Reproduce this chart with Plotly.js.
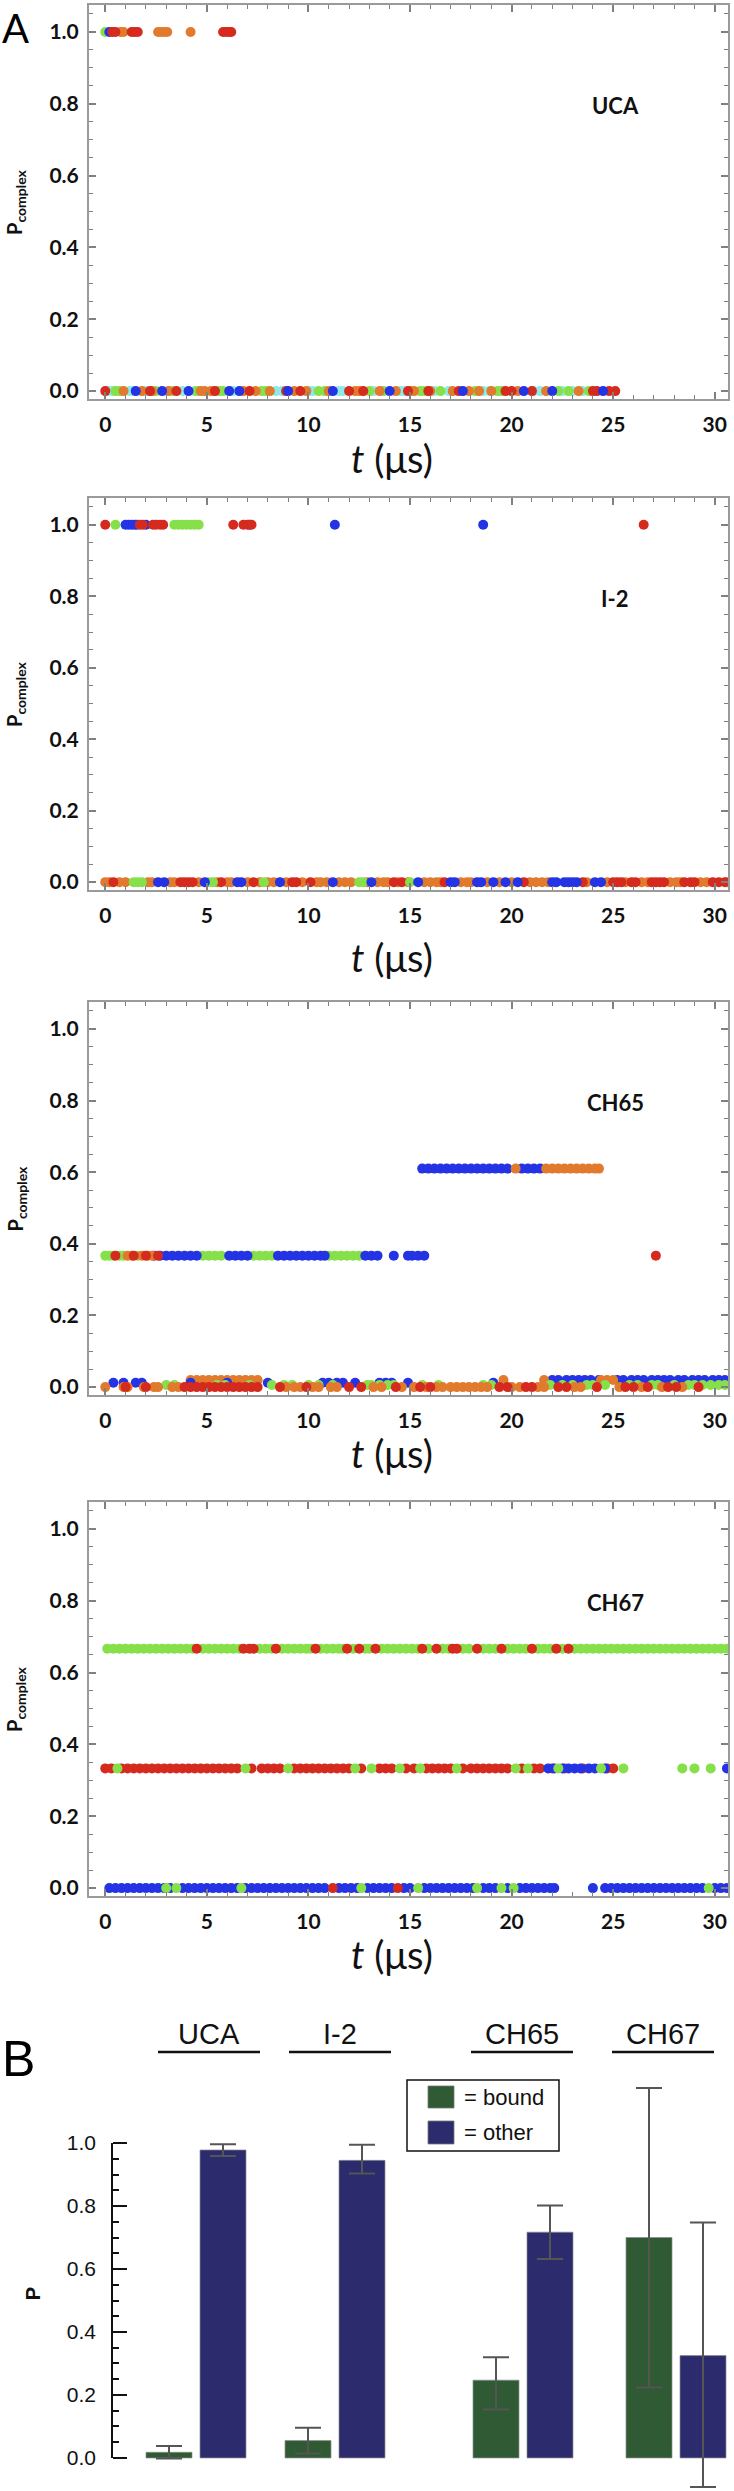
<!DOCTYPE html>
<html>
<head>
<meta charset="utf-8">
<script src="https://cdn.plot.ly/plotly-3.0.1.min.js"></script>
<style>
  html, body { margin: 0; padding: 0; background: #fff; }
  #plot { width: 734px; height: 2491px; }
</style>
</head>
<body>
<div id="plot"></div>
<script>
"use strict";

// ── Panel A: trajectory samples, t in µs, one array per colour and level ──
// UCA
const UCA_TOP_GREEN  = [0.0];
const UCA_TOP_BLUE   = [0.2];
const UCA_TOP_RED    = [0.35, 0.5, 1.3, 1.45, 1.6, 5.8, 5.95, 6.1, 6.2];
const UCA_TOP_ORANGE = [0.75, 0.9, 2.6, 2.75, 2.9, 3.05, 4.2];
const UCA_BOT_CYAN   = [0.1, 0.3, 1.2, 1.3, 2.0, 3.8, 4.4, 6.3, 8.4, 8.7, 10.0, 10.2, 11.5, 11.7, 13.2,
                        14.5, 14.7, 16.2, 16.9, 18.6, 18.9, 21.1, 21.4, 22.5, 23.0, 23.5];
const UCA_BOT_GREEN  = [0.5, 0.7, 2.5, 3.3, 4.5, 5.6, 5.8, 7.7, 7.9, 10.5, 10.8, 13.0, 13.7, 15.5, 15.7,
                        16.5, 18.2, 19.3, 19.5, 22.3, 22.8, 23.8];
const UCA_BOT_ORANGE = [0.9, 1.8, 2.3, 3.1, 4.7, 4.9, 5.2, 6.8, 7.4, 8.1, 9.3, 9.9, 11.0, 12.3, 12.5, 13.5,
                        14.3, 15.0, 15.2, 16.0, 17.1, 17.9, 18.4, 19.0, 20.3, 21.7, 23.3];
const UCA_BOT_RED    = [0.0, 2.2, 3.5, 5.4, 7.1, 8.9, 9.6, 12.0, 12.7, 14.9, 15.9, 17.4, 19.7, 20.0, 21.0,
                        24.0, 24.2, 24.8, 25.1];
const UCA_BOT_BLUE   = [1.5, 2.8, 4.1, 6.1, 6.6, 9.0, 11.2, 14.0, 17.6, 20.6, 22.0, 24.5];

// I-2
const I2_TOP_RED    = [0.0, 1.7, 1.85, 2.35, 2.5, 2.7, 2.85, 6.3, 6.8, 7.0, 7.2, 26.5];
const I2_TOP_GREEN  = [0.5, 3.4, 3.6, 3.8, 4.0, 4.2, 4.4, 4.6];
const I2_TOP_BLUE   = [1.0, 1.15, 1.3, 1.45, 1.55, 2.0, 7.1, 11.3, 18.6];
const I2_BOT_ORANGE = [0.0, 0.2, 0.7, 1.0, 2.1, 2.3, 3.2, 3.4, 4.6, 5.5, 6.0, 6.2, 7.0, 7.6, 8.0, 8.3, 8.9,
                       9.7, 10.4, 10.6, 10.9, 11.5, 11.8, 12.1, 12.9, 13.4, 13.7, 13.9, 14.4, 14.9, 15.7,
                       16.0, 16.3, 16.5, 17.5, 17.8, 18.0, 18.8, 19.4, 20.0, 20.9, 21.2, 21.5, 21.8, 23.7,
                       24.7, 25.6, 26.4, 26.7, 27.8, 28.1, 28.3, 29.3, 29.6, 30.6];
const I2_BOT_RED    = [0.4, 3.7, 3.9, 4.1, 4.3, 5.7, 7.3, 9.2, 9.4, 10.1, 14.2, 14.6, 16.7, 20.6, 23.5,
                       25.0, 25.2, 25.4, 25.9, 26.1, 26.9, 27.1, 27.3, 27.5, 28.5, 28.8, 29.0, 29.9, 30.2, 30.5];
const I2_BOT_GREEN  = [1.4, 1.6, 1.8, 5.1, 5.3, 7.8, 12.5, 12.7, 15.0];
const I2_BOT_BLUE   = [2.6, 2.9, 4.9, 6.5, 6.7, 8.6, 11.2, 13.1, 15.4, 17.0, 17.2, 18.3, 18.5, 19.1, 19.7,
                       20.3, 22.0, 22.2, 22.6, 22.8, 23.0, 23.2, 24.1, 24.4];

// CH65
const CH65_MID_GREEN  = [0.0, 0.2, 0.4, 0.7, 0.9, 1.6, 4.8, 5.1, 5.4, 5.7, 7.3, 7.6, 7.9, 8.2, 11.0, 11.3,
                         11.6, 11.9, 12.2, 12.5];
const CH65_MID_ORANGE = [1.1, 1.3, 1.8, 2.1, 2.3];
const CH65_MID_RED    = [0.5, 1.4, 2.0, 2.6, 27.1];
const CH65_MID_BLUE   = [2.4, 2.7, 3.0, 3.3, 3.6, 3.9, 4.2, 4.5, 6.1, 6.4, 6.7, 7.0, 8.5, 8.8, 9.1, 9.4, 9.7,
                         10.0, 10.3, 10.6, 10.8, 12.8, 13.1, 13.4, 14.2, 14.9, 15.1, 15.4, 15.7];
const CH65_HIGH_BLUE   = [15.6, 15.9, 16.2, 16.5, 16.8, 17.1, 17.4, 17.7, 18.0, 18.3, 18.6, 18.9, 19.2, 19.5,
                          19.8, 20.5, 20.8, 21.1, 21.4];
const CH65_HIGH_ORANGE = [20.2, 21.7, 22.0, 22.3, 22.6, 22.9, 23.2, 23.5, 23.8, 24.1, 24.3];
const CH65_BOT_ORANGE = [0.0, 0.9, 1.1, 1.9, 2.4, 2.6, 3.3, 3.6, 8.9, 9.3, 9.6, 10.2, 10.5, 11.1, 11.4, 13.2,
                         13.6, 14.6, 15.2, 15.8, 16.3, 16.6, 17.0, 17.3, 17.6, 17.9, 18.2, 18.5, 18.8, 20.0,
                         20.4, 21.3, 21.6, 23.1, 23.4, 25.3, 26.4, 27.4, 28.4];
const CH65_BOT_RED    = [1.0, 2.0, 3.9, 4.2, 4.5, 4.8, 5.1, 5.4, 5.7, 6.0, 6.3, 6.6, 6.9, 7.2, 7.5, 8.6, 9.9,
                         12.0, 12.6, 14.3, 15.5, 16.0, 19.4, 19.8, 20.7, 21.0, 22.3, 22.7, 24.2, 25.6, 26.0,
                         26.7, 27.7, 28.1, 29.2];
const CH65_BOT_GREEN  = [3.0, 3.4, 5.5, 5.9, 7.1, 8.2, 8.8, 9.2, 10.0, 10.5, 11.2, 12.9, 13.1, 13.5, 13.9,
                         14.2, 15.6, 16.4, 18.6, 19.0, 21.9, 22.5, 23.0, 23.7, 24.0, 24.6, 25.8, 26.2, 26.9,
                         27.2, 28.0, 28.7, 29.0, 29.4, 29.8, 30.2, 30.5];
const CH65_BOT_BLUE   = [0.4, 0.9, 1.5, 1.8, 4.2, 6.0, 8.0, 10.7, 11.0, 11.4, 11.7, 12.3, 13.5, 13.8, 14.1,
                         14.9, 19.1];
const CH65_LOW_BLUE   = [22.0, 22.3, 22.7, 23.0, 23.3, 23.6, 23.9, 24.3, 25.2, 25.5, 25.9, 26.2, 26.5, 26.9,
                         27.2, 27.5, 27.8, 28.2, 28.5, 28.9, 29.2, 29.5, 29.9, 30.2, 30.5];
const CH65_LOW_ORANGE = [4.2, 4.5, 4.8, 5.1, 5.4, 5.7, 6.0, 6.3, 6.6, 6.9, 7.2, 7.5, 19.6, 21.6, 24.4, 24.7, 25.0];

// CH67
const CH67_HIGH_GREEN = [0.1, 0.4, 0.7, 1.0, 1.3, 1.6, 1.9, 2.2, 2.5, 2.8, 3.1, 3.4, 3.7, 4.0, 4.3, 4.8, 5.1,
                         5.4, 5.7, 6.0, 6.3, 6.6, 7.6, 7.9, 8.2, 8.7, 9.0, 9.3, 9.6, 9.9, 10.1, 10.6, 10.9,
                         11.2, 11.5, 11.7, 12.2, 12.8, 13.0, 13.6, 13.9, 14.2, 14.5, 14.8, 15.1, 15.4, 15.9,
                         16.6, 16.9, 17.6, 17.9, 18.6, 18.9, 19.2, 19.8, 20.1, 20.4, 20.7, 21.3, 21.6, 21.9,
                         22.5, 23.1, 23.4, 23.7, 24.0, 24.3, 24.6, 24.9, 25.2, 25.5, 25.8, 26.1, 26.4, 26.7,
                         27.0, 27.3, 27.6, 27.9, 28.2, 28.5, 28.8, 29.1, 29.4, 29.7, 30.0, 30.3, 30.6];
const CH67_HIGH_RED   = [4.5, 6.8, 7.1, 7.3, 8.4, 10.35, 11.9, 12.5, 13.3, 15.6, 16.3, 17.1, 17.3, 18.3, 19.5,
                         21.0, 22.2, 22.8];
const CH67_MID_RED    = [0.0, 0.3, 0.8, 1.1, 1.4, 1.7, 2.0, 2.3, 2.6, 2.9, 3.2, 3.5, 3.8, 4.1, 4.4, 4.7, 5.0,
                         5.3, 5.6, 5.9, 6.2, 6.5, 7.2, 7.7, 8.0, 8.3, 8.6, 9.3, 9.6, 9.9, 10.2, 10.5, 10.8,
                         11.1, 11.4, 11.7, 12.0, 12.6, 13.5, 13.8, 14.1, 14.8, 15.2, 15.8, 16.1, 16.4, 16.7,
                         17.0, 17.6, 18.0, 18.3, 18.6, 18.9, 19.2, 19.5, 19.8, 20.5, 21.1, 21.4, 22.0, 22.6,
                         23.5, 24.7, 25.0];
const CH67_MID_BLUE   = [21.8, 22.1, 22.5, 22.8, 23.1, 23.4, 23.8, 24.1, 24.6, 30.6];
const CH67_MID_GREEN  = [0.6, 6.9, 9.0, 12.3, 13.1, 14.5, 15.5, 17.3, 20.2, 20.8, 22.3, 24.4, 25.5, 28.4, 29.0, 29.8];
const CH67_LOW_BLUE   = [0.2, 0.5, 0.8, 1.1, 1.4, 1.7, 2.0, 2.3, 2.6, 2.9, 3.2, 3.8, 4.1, 4.4, 4.7, 5.0, 5.3,
                         5.6, 5.9, 6.2, 6.5, 6.9, 7.2, 7.5, 7.8, 8.1, 8.4, 8.7, 9.0, 9.3, 9.6, 9.9, 10.2,
                         10.5, 10.8, 11.5, 11.8, 12.1, 12.4, 12.9, 13.2, 13.5, 13.8, 14.1, 14.7, 15.0, 15.7,
                         16.0, 16.3, 16.6, 16.9, 17.2, 17.5, 17.8, 18.1, 18.6, 18.9, 19.2, 19.8, 20.4, 20.7,
                         21.0, 21.3, 21.6, 21.9, 22.1, 24.0, 24.6, 24.9, 25.2, 25.5, 25.8, 26.1, 26.4, 26.7,
                         27.0, 27.3, 27.6, 27.9, 28.2, 28.5, 28.8, 29.1, 29.4, 30.0, 30.3, 30.6];
const CH67_LOW_GREEN  = [3.0, 3.5, 6.7, 12.6, 15.4, 18.3, 19.5, 20.1, 29.7];
const CH67_LOW_RED    = [11.2, 14.4];

const PANEL_NAMES = ["UCA", "I-2", "CH65", "CH67"];

// ── Panel B: mean P with error bars ──
const GROUPS       = ["UCA", "I-2", "CH65", "CH67"];
const BOUND_P      = [0.018, 0.055, 0.247, 0.70];
const BOUND_ERR_HI = [0.020, 0.041, 0.073, 0.475];
const BOUND_ERR_LO = [0.020, 0.041, 0.093, 0.476];
const OTHER_P      = [0.978, 0.945, 0.717, 0.325];
const OTHER_ERR_HI = [0.018, 0.050, 0.085, 0.423];
const OTHER_ERR_LO = [0.019, 0.042, 0.085, 0.417];
const P_TICKS      = [0, 0.2, 0.4, 0.6, 0.8, 1.0];

// ── Layout geometry (pixels of the 734 x 2491 page) ──
const W = 734, H = 2491;
const COL = { green: "#86E04A", red: "#D52A1E", orange: "#E27A2E", blue: "#2433E4", cyan: "#8EEAE6" };
const PANEL_TOP = [5, 498, 1002, 1502];
const PANEL_BOT = [399, 890, 1395, 1896];
const TTITLE_Y  = [458, 957, 1453, 1954];
const GROUP_POS = [196, 335, 523, 676];   // bar group centres, px on the B x axis
const LABEL_POS = [209, 340, 522, 663];   // group heading centres
const py = px => 1 - px / H;

const panelSeries = [
    [
        [UCA_BOT_CYAN, 0, "cyan"], [UCA_BOT_GREEN, 0, "green"], [UCA_BOT_ORANGE, 0, "orange"],
        [UCA_BOT_RED, 0, "red"], [UCA_BOT_BLUE, 0, "blue"],
        [UCA_TOP_GREEN, 1, "green"], [UCA_TOP_BLUE, 1, "blue"], [UCA_TOP_ORANGE, 1, "orange"],
        [UCA_TOP_RED, 1, "red"],
    ],
    [
        [I2_BOT_ORANGE, 0, "orange"], [I2_BOT_RED, 0, "red"], [I2_BOT_GREEN, 0, "green"],
        [I2_BOT_BLUE, 0, "blue"],
        [I2_TOP_GREEN, 1, "green"], [I2_TOP_BLUE, 1, "blue"], [I2_TOP_RED, 1, "red"],
    ],
    [
        [CH65_LOW_BLUE, 0.02, "blue"], [CH65_LOW_ORANGE, 0.02, "orange"],
        [CH65_BOT_BLUE, 0.012, "blue"], [CH65_BOT_GREEN, 0.006, "green"],
        [CH65_BOT_ORANGE, 0, "orange"], [CH65_BOT_RED, 0, "red"],
        [CH65_MID_GREEN, 0.367, "green"], [CH65_MID_BLUE, 0.367, "blue"],
        [CH65_MID_ORANGE, 0.367, "orange"], [CH65_MID_RED, 0.367, "red"],
        [CH65_HIGH_BLUE, 0.61, "blue"], [CH65_HIGH_ORANGE, 0.61, "orange"],
    ],
    [
        [CH67_LOW_BLUE, 0, "blue"], [CH67_LOW_GREEN, 0, "green"], [CH67_LOW_RED, 0, "red"],
        [CH67_MID_RED, 1 / 3, "red"], [CH67_MID_BLUE, 1 / 3, "blue"], [CH67_MID_GREEN, 1 / 3, "green"],
        [CH67_HIGH_GREEN, 2 / 3, "green"], [CH67_HIGH_RED, 2 / 3, "red"],
    ],
];

const traces = [];
const layout = {
    width: W, height: H,
    margin: { l: 0, r: 0, t: 0, b: 0 },
    paper_bgcolor: "#fff", plot_bgcolor: "#fff",
    showlegend: false,
    annotations: [], shapes: [],
};

const tickFontA = { family: "Lato, 'Open Sans', sans-serif", size: 21, color: "#111", weight: "bold" };

panelSeries.forEach((series, p) => {
    const n = p + 1;
    const xa = "x" + (n === 1 ? "" : n), ya = "y" + (n === 1 ? "" : n);
    series.forEach(([xs, level, c]) => {
        traces.push({
            type: "scatter", mode: "markers",
            x: xs, y: xs.map(() => level),
            xaxis: xa, yaxis: ya,
            marker: { size: 10, color: COL[c], line: { width: 0 } },
            hoverinfo: "x+y",
        });
    });
    layout["xaxis" + (n === 1 ? "" : n)] = {
        domain: [89 / W, 728 / W], anchor: ya,
        range: [-0.8, 30.65], tick0: 0, dtick: 5,
        ticks: "inside", ticklen: 7, tickwidth: 1.5, tickcolor: "#808080",
        minor: { dtick: 1, ticks: "inside", ticklen: 4, tickwidth: 1.2, tickcolor: "#808080" },
        showline: true, linecolor: "#9a9a9a", linewidth: 2, mirror: "allticks",
        showgrid: false, zeroline: false,
        tickfont: tickFontA, ticklabelstandoff: 6,
    };
    layout["yaxis" + (n === 1 ? "" : n)] = {
        domain: [py(PANEL_BOT[p]), py(PANEL_TOP[p])], anchor: xa,
        range: [-0.022, 1.075], tick0: 0, dtick: 0.2, tickformat: ".1f",
        ticks: "inside", ticklen: 7, tickwidth: 1.5, tickcolor: "#808080",
        minor: { dtick: 0.05, ticks: "inside", ticklen: 4, tickwidth: 1.2, tickcolor: "#808080" },
        showline: true, linecolor: "#9a9a9a", linewidth: 2, mirror: "allticks",
        showgrid: false, zeroline: false,
        tickfont: tickFontA, ticklabelstandoff: 4,
    };
    // panel name, axis titles
    layout.annotations.push({
        xref: xa, yref: ya, x: 25.1, y: 0.795, showarrow: false,
        text: PANEL_NAMES[p], font: { family: "Lato, sans-serif", size: 22, color: "#111", weight: "bold" },
    });
    layout.annotations.push({
        xref: "paper", yref: "paper", x: 392 / W, y: py(TTITLE_Y[p]),
        xanchor: "center", yanchor: "middle", showarrow: false,
        text: "<i>t</i> (μs)", font: { family: "Lato, sans-serif", size: 38, color: "#111" },
    });
    layout.annotations.push({
        xref: "paper", yref: "paper", x: 16 / W, y: py((PANEL_TOP[p] + PANEL_BOT[p]) / 2),
        xanchor: "center", yanchor: "middle", showarrow: false, textangle: -90,
        text: "<b>P<sub>complex</sub></b>", font: { family: "Lato, sans-serif", size: 20, color: "#111" },
    });
});

layout.annotations.push({
    xref: "paper", yref: "paper", x: 0, y: py(28), xanchor: "left", yanchor: "middle",
    showarrow: false, text: "A", font: { family: "Lato, sans-serif", size: 40, color: "#000" },
});

// ── Panel B ──
const barLine = { color: "rgba(140,140,140,0.7)", width: 1 };
traces.push({
    type: "bar", name: "bound", x: GROUP_POS.map(c => c - 27), y: BOUND_P, width: 46,
    xaxis: "x5", yaxis: "y5",
    marker: { color: "#2F5A33", line: barLine },
    error_y: { type: "data", array: BOUND_ERR_HI, arrayminus: BOUND_ERR_LO, color: "#555", thickness: 2, width: 13 },
});
traces.push({
    type: "bar", name: "other", x: GROUP_POS.map(c => c + 27), y: OTHER_P, width: 46,
    xaxis: "x5", yaxis: "y5",
    marker: { color: "#2B2B6E", line: barLine },
    error_y: { type: "data", array: OTHER_ERR_HI, arrayminus: OTHER_ERR_LO, color: "#555", thickness: 2, width: 13 },
});

const minorP = [];
for (let k = 1; k < 20; k++) if (k % 4 !== 0) minorP.push(k * 0.05);

layout.xaxis5 = { domain: [0, 1], range: [0, W], anchor: "y5", visible: false, fixedrange: true };
layout.yaxis5 = {
    domain: [0, py(2070)], anchor: "free", position: 112 / W,
    range: [-0.105, 1.232],
    tickmode: "array", tickvals: P_TICKS, ticktext: P_TICKS.map(v => v.toFixed(1)),
    ticks: "inside", ticklen: 14, tickwidth: 2, tickcolor: "#111",
    minor: { tickmode: "array", tickvals: minorP, ticks: "inside", ticklen: 6, tickwidth: 2, tickcolor: "#111" },
    showline: false, showgrid: false, zeroline: false,
    tickfont: { family: "'Liberation Sans', Arial, sans-serif", size: 21, color: "#111" },
    ticklabelstandoff: 16,
};
// axis spine only over 0..1
layout.shapes.push({
    type: "line", xref: "paper", yref: "y5", x0: 112 / W, x1: 112 / W, y0: 0, y1: 1,
    line: { color: "#111", width: 2 },
});
layout.annotations.push({
    xref: "paper", yref: "y5", x: 33 / W, y: 0.52, xanchor: "center", yanchor: "middle",
    showarrow: false, textangle: -90, text: "<b>P</b>",
    font: { family: "'Liberation Sans', Arial, sans-serif", size: 20, color: "#111" },
});
layout.annotations.push({
    xref: "paper", yref: "paper", x: 0, y: py(2059), xanchor: "left", yanchor: "middle",
    showarrow: false, text: "B", font: { family: "'Liberation Sans', Arial, sans-serif", size: 50, color: "#000" },
});

// group headings with underlines
GROUPS.forEach((g, i) => {
    layout.annotations.push({
        xref: "x5", yref: "paper", x: LABEL_POS[i], y: py(2034), xanchor: "center", yanchor: "middle",
        showarrow: false, text: g,
        font: { family: "'Liberation Sans', Arial, sans-serif", size: 29, color: "#111" },
    });
    layout.shapes.push({
        type: "line", xref: "x5", yref: "paper",
        x0: LABEL_POS[i] - 51, x1: LABEL_POS[i] + 51, y0: py(2052), y1: py(2052),
        line: { color: "#111", width: 2.5 },
    });
});

// legend box drawn by hand so the swatches can be large
layout.shapes.push({
    type: "rect", xref: "paper", yref: "paper",
    x0: 407 / W, x1: 559 / W, y0: py(2151), y1: py(2080),
    line: { color: "#111", width: 1.5 }, fillcolor: "#fff",
});
[["bound", "#2F5A33", 2086, 2108], ["other", "#2B2B6E", 2121, 2144]].forEach(([lbl, col, y0, y1]) => {
    layout.shapes.push({
        type: "rect", xref: "paper", yref: "paper",
        x0: 428 / W, x1: 454 / W, y0: py(y1), y1: py(y0),
        line: { color: "rgba(120,120,120,0.8)", width: 1 }, fillcolor: col,
    });
    layout.annotations.push({
        xref: "paper", yref: "paper", x: 462 / W, y: py((y0 + y1) / 2),
        xanchor: "left", yanchor: "middle", showarrow: false, text: "= " + lbl,
        font: { family: "'Liberation Sans', Arial, sans-serif", size: 22, color: "#111" },
    });
});

Plotly.newPlot("plot", traces, layout, { displayModeBar: false, responsive: false });
</script>
</body>
</html>
